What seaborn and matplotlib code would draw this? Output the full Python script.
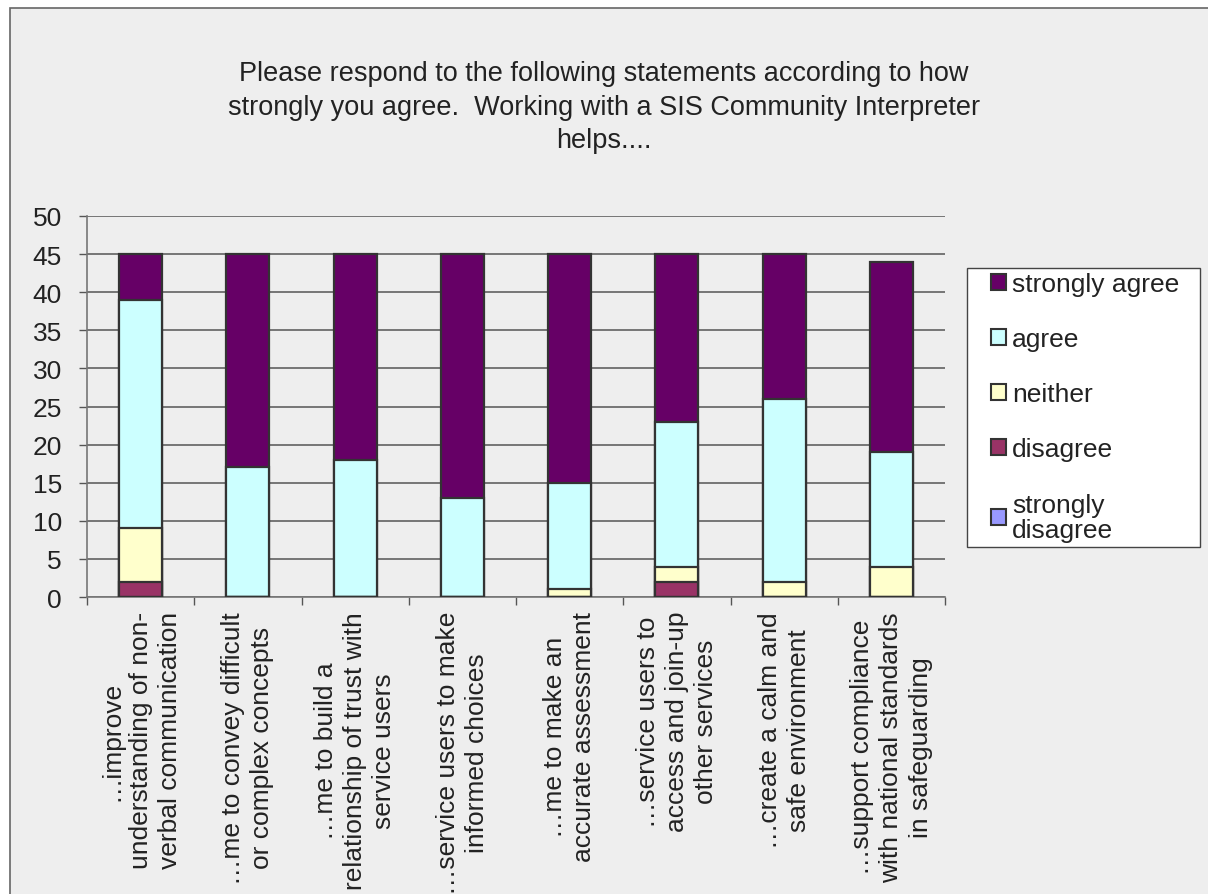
import matplotlib
matplotlib.use("Agg")
import matplotlib.pyplot as plt
from matplotlib.patches import Patch, Rectangle
import seaborn as sns
import pandas as pd
import numpy as np

# Statements (x-axis categories)
statements = [
    "\u2026improve\nunderstanding of non-\nverbal communication",
    "\u2026me to convey difficult\nor complex concepts",
    "\u2026me to build a\nrelationship of trust with\nservice users",
    "\u2026service users to make\ninformed choices",
    "\u2026me to make an\naccurate assessment",
    "\u2026service users to\naccess and join-up\nother services",
    "\u2026create a calm and\nsafe environment",
    "\u2026support compliance\nwith national standards\nin safeguarding",
]

# Response counts per statement
strongly_disagree = [0, 0, 0, 0, 0, 0, 0, 0]
disagree = [2, 0, 0, 0, 0, 2, 0, 0]
neither = [7, 0, 0, 0, 1, 2, 2, 4]
agree = [30, 17, 18, 13, 14, 19, 24, 15]
strongly_agree = [6, 28, 27, 32, 30, 22, 19, 25]

series_names = ["strongly disagree", "disagree", "neither", "agree", "strongly agree"]
series_values = [strongly_disagree, disagree, neither, agree, strongly_agree]
series_colors = ["#9999FF", "#993366", "#FFFFCC", "#CCFFFF", "#660066"]
legend_labels = ["strongly agree", "agree", "neither", "disagree", "strongly\ndisagree"]

y_ticks = list(range(0, 51, 5))

FONT = "Liberation Sans"
plt.rcParams["font.family"] = [FONT, "DejaVu Sans"]
TEXT_COLOR = "#222222"
EDGE = "#333333"
BG = "#EEEEEE"

W, H = 1208, 895
fig = plt.figure(figsize=(W / 100, H / 100), dpi=100, facecolor="white")

# Chart area panel with a thin border
fig.patches.append(Rectangle((10 / W, -0.1), 1.2, 1 - 9 / H + 0.1,
                             transform=fig.transFigure, facecolor=BG,
                             edgecolor="#666666", linewidth=1.2, zorder=-1))

ax = fig.add_axes([87 / W, 297 / H, 858 / W, 381 / H])
ax.set_facecolor(BG)

# Stacked bars: draw cumulative totals from the top layer downward
cum = np.cumsum(np.array(series_values), axis=0)
df = pd.DataFrame({"statement": statements})
for i in range(len(series_names) - 1, -1, -1):
    df["value"] = cum[i]
    sns.barplot(data=df, x="statement", y="value", color=series_colors[i],
                width=0.4, edgecolor=EDGE, linewidth=1.6, saturation=1,
                ax=ax, zorder=3)

ax.set_ylim(0, 50)
ax.set_xlim(-0.5, len(statements) - 0.5)
ax.set_yticks(y_ticks)
ax.set_xlabel("")
ax.set_ylabel("")

# Grid and spines
ax.yaxis.grid(True, color="#555555", linewidth=1.1, zorder=0)
ax.xaxis.grid(False)
ax.set_axisbelow(True)
for side in ["top", "right"]:
    ax.spines[side].set_visible(False)
for side in ["left", "bottom"]:
    ax.spines[side].set_color("#777777")
    ax.spines[side].set_linewidth(1.2)

ax.tick_params(axis="y", direction="out", length=6, width=1, color="#555555",
               pad=12, labelsize=19, labelcolor=TEXT_COLOR)
ax.set_xticks(np.arange(len(statements) + 1) - 0.5, minor=True)
ax.tick_params(axis="x", which="minor", direction="out", length=6, width=1,
               color="#555555")
ax.tick_params(axis="x", which="major", length=0, pad=10, labelsize=19,
               labelcolor=TEXT_COLOR, labelrotation=90)
for lab in ax.get_xticklabels():
    lab.set_multialignment("center")
    lab.set_linespacing(1.27)

# Title
fig.text(0.5, 1 - 61 / H,
         "Please respond to the following statements according to how\n"
         "strongly you agree.  Working with a SIS Community Interpreter\n"
         "helps....",
         ha="center", va="top", fontsize=19.5, color=TEXT_COLOR,
         linespacing=1.38)

# Legend box
fig.patches.append(Rectangle((967 / W, 1 - 548 / H), 233 / W, 279 / H,
                             transform=fig.transFigure, facecolor="white",
                             edgecolor="#444444", linewidth=1.0, zorder=1))
handles = [Patch(facecolor=series_colors[i], edgecolor=EDGE, linewidth=1.5)
           for i in range(len(series_names) - 1, -1, -1)]
leg = fig.legend(handles, legend_labels, loc="upper left",
                 bbox_to_anchor=(991 / W, 1 - 273 / H),
                 frameon=False, fontsize=19,
                 handlelength=0.55, handleheight=0.55, handletextpad=0.25,
                 labelspacing=1.18, borderpad=0.0, borderaxespad=0)
leg.set_zorder(2)
for t in leg.get_texts():
    t.set_color(TEXT_COLOR)
    t.set_linespacing(1.05)

fig.savefig("out.png", dpi=100, facecolor=fig.get_facecolor())
